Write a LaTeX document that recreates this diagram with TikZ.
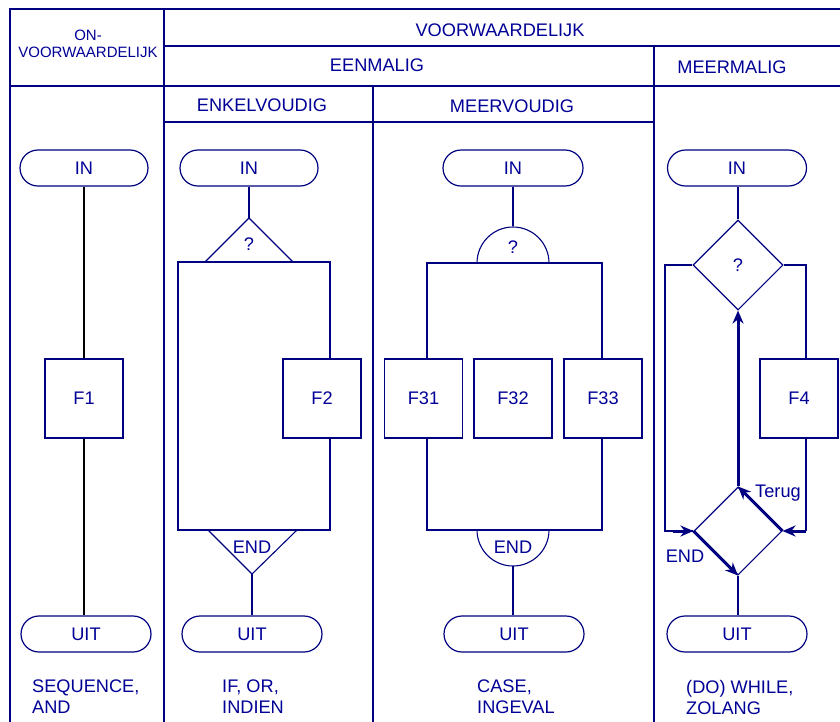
\documentclass[tikz,border=0pt]{standalone}
\usepackage{fontspec}
\setmainfont{Liberation Sans}
\usetikzlibrary{shapes.geometric, arrows.meta, positioning, calc}
\definecolor{cNavy}{RGB}{0,0,128}
\definecolor{cInk}{RGB}{0,0,150}
\tikzset{
	grid/.style     ={draw=cNavy, line width=1.3pt},
	hdr/.style      ={text=cInk, inner sep=0pt},
	term/.style     ={rectangle, rounded corners=18pt, draw=cNavy, line width=1.2pt, minimum width=128pt, minimum height=36pt, text=cInk},
	func/.style     ={rectangle, draw=cNavy, line width=1.1pt, minimum width=78pt, minimum height=79pt, text=cInk},
	cond/.style     ={diamond, draw=cNavy, line width=1.1pt, minimum width=90pt, minimum height=90pt, inner sep=0pt, text=cInk},
	flow/.style     ={draw=cNavy, line width=1.1pt},
	plain/.style    ={draw=black, line width=1.1pt},
	back/.style     ={draw=cNavy, line width=3pt, -{Stealth[length=13pt,width=11pt]}},
	tag/.style      ={text=cInk, align=left, anchor=west, inner sep=0pt},
}

\begin{document}
\begin{tikzpicture}[x=1pt, y=-1pt, font=\fontsize{18.2}{21}\selectfont]
	\useasboundingbox (0,0) rectangle (840,721);
	\clip (0,0) rectangle (840,721);
	% table frame
	\draw[grid] (10,730) -- (10,9) -- (850,9);
	\draw[grid] (164,9) -- (164,730);
	\draw[grid] (164,46) -- (850,46);
	\draw[grid] (10,86) -- (850,86);
	\draw[grid] (164,122) -- (654,122);
	\draw[grid] (373,86) -- (373,730);
	\draw[grid] (654,46) -- (654,730);
	% headers
	\node[hdr, align=center, font=\fontsize{15}{17}\selectfont] (honv) at (88,44) {ON-\\VOORWAARDELIJK};
	\node[hdr] (hvw) at (500,30) {VOORWAARDELIJK};
	\node[hdr] (hein) at (377,65) {EENMALIG};
	\node[hdr] (hmeer) at (732,67) {MEERMALIG};
	\node[hdr] (henk) at (262,105) {ENKELVOUDIG};
	\node[hdr] (hmvd) at (512,106) {MEERVOUDIG};
	% sequence
	\node[term] (in1) at (84,168) {IN};
	\node[func] (f1) at (84,398.5) {F1};
	\node[term, minimum width=130pt] (uit1) at (86,634) {UIT};
	\draw[plain] (in1) -- (in1 |- f1.north);
	\draw[plain] (f1) -- (f1 |- uit1.north);
	% if
	\node[term, minimum width=138pt] (in2) at (249,168) {IN};
	\coordinate (q2) at (249,218);
	\coordinate (r2nw) at (178,262);
	\coordinate (r2se) at (330,530);
	\coordinate (e2) at (252,574);
	\node[func] (f2) at (322,398.5) {F2};
	\node[term, minimum width=140pt] (uit2) at (252,634) {UIT};
	\draw[flow] (in2) -- (q2);
	\draw[flow] (205,262) -- (q2) -- (293,262);
	\node[hdr] (t2) at (249,244) {?};
	\draw[flow] (r2se |- f2.south) -- (r2se) -- (r2nw |- r2se) -- (r2nw) -- (r2se |- r2nw) -- (r2se |- f2.north);
	\draw[flow] (208,530) -- (e2) -- (297,530);
	\node[hdr] (t2e) at (252,547) {END};
	\draw[flow] (e2) -- (uit2);
	% case
	\node[term, minimum width=140pt] (in3) at (513,168) {IN};
	\coordinate (q3) at (513,226);
	\coordinate (r3nw) at (427,263);
	\coordinate (r3se) at (602,530);
	\coordinate (e3) at (513,566);
	\node[func] (f31) at (423.5,398.5) {F31};
	\node[func] (f32) at (513,398.5) {F32};
	\node[func] (f33) at (603,398.5) {F33};
	\node[term, minimum width=140pt] (uit3) at (514,634) {UIT};
	\draw[flow] (in3) -- (q3);
	\draw[flow] (477,263) arc (180:360:36);
	\node[hdr] (t3) at (513,247) {?};
	\draw[flow] (r3nw |- f31.north) -- (r3nw) -- (r3se |- r3nw) -- (r3se |- f33.north);
	\draw[flow] (r3nw |- f31.south) -- (r3nw |- r3se) -- (r3se) -- (r3se |- f33.south);
	\draw[flow] (477,530) arc (180:0:36);
	\node[hdr] (t3e) at (513,547) {END};
	\draw[flow] (e3) -- (e3 |- uit3.north);
	% while
	\node[term, minimum width=139pt] (in4) at (737,168) {IN};
	\node[cond] (d4) at (738,265) {?};
	\node[func] (f4) at (799,398.5) {F4};
	\node[cond, minimum width=88pt, minimum height=88pt] (e4) at (738,531) {};
	\node[term, minimum width=140pt] (uit4) at (737,634) {UIT};
	\coordinate (l4) at (665,531);
	\coordinate (r4) at (806,531);
	\draw[flow] (d4 |- in4.south) -- (d4);
	\draw[flow] (d4.west) -| (l4) -- (e4.west);
	\draw[flow] (d4.east) -| (r4 |- f4.north);
	\draw[flow] (r4 |- f4.south) -- (r4);
	\draw[back] ($(e4.west)+(-20,0)$) -- (e4.west);
	\draw[back] (r4) -- (e4.east);
	\draw[back] (e4.west) -- (e4.south);
	\draw[back] (e4.east) -- (e4.north);
	\draw[back] (e4.north) -- (d4.south);
	\node[hdr] (terug) at (778,493) {Terug};
	\node[hdr] (end4) at (685,556) {END};
	\draw[flow] (e4.south) -- (e4 |- uit4.north);
	% names
	\node[tag] (n1) at (32,697) {SEQUENCE,\\AND};
	\node[tag] (n2) at (222,697) {IF, OR,\\INDIEN};
	\node[tag] (n3) at (477,697) {CASE,\\INGEVAL};
	\node[tag] (n4) at (686,697) {(DO) WHILE,\\ZOLANG};
\end{tikzpicture}
\end{document}
